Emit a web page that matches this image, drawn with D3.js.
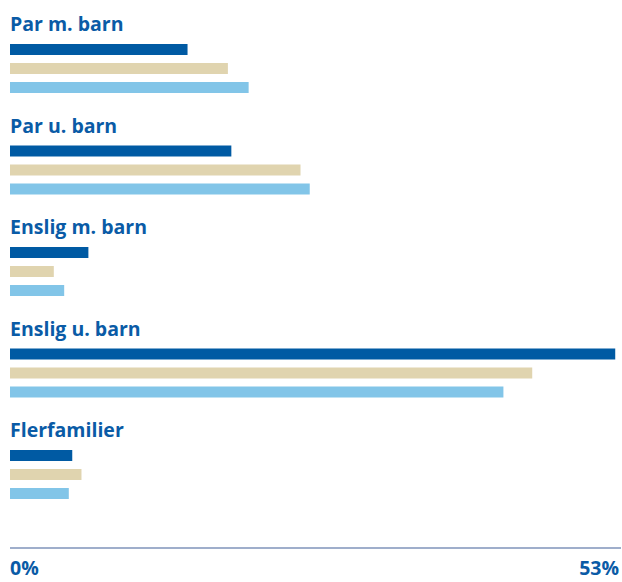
<!DOCTYPE html>
<html>
<head>
<meta charset="utf-8">
<script src="https://cdn.jsdelivr.net/npm/d3@7"></script>
<style>
  html, body { margin: 0; padding: 0; background: #fff; }
  svg { display: block; }
  text { font-family: "Open Sans", Roboto, sans-serif; font-weight: 700; fill: #0a5ba6; }
</style>
</head>
<body>
<svg id="chart" width="622" height="582"></svg>
<script>
const categories = ["Par m. barn", "Par u. barn", "Enslig m. barn", "Enslig u. barn", "Flerfamilier"];
const seriesNames = ["Serie 1", "Serie 2", "Serie 3"];
const series1 = [15.4, 19.2, 6.8, 52.5, 5.4];
const series2 = [18.9, 25.2, 3.8, 45.3, 6.2];
const series3 = [20.7, 26.0, 4.7, 42.8, 5.1];
const axisMax = 53;
const tickLabels = ["0%", "53%"];
const colors = ["#005aa3", "#e0d4af", "#82c5e8"];

const allSeries = [series1, series2, series3];
const svg = d3.select("#chart");

const x = d3.scaleLinear().domain([0, axisMax]).range([10, 621]);
const yGroup = d3.scaleBand().domain(categories).range([44, 44 + 101.5 * categories.length]).padding(0);
const ySeries = d3.scaleBand().domain(seriesNames).range([0, 49]).paddingInner(8 / 19).paddingOuter(0);
const color = d3.scaleOrdinal().domain(seriesNames).range(colors);

const groups = svg.selectAll("g.group")
  .data(categories)
  .join("g")
  .attr("class", "group")
  .attr("transform", d => `translate(0,${yGroup(d)})`);

groups.append("text")
  .attr("x", 10)
  .attr("y", -13)
  .attr("font-size", 19.5)
  .text(d => d);

groups.selectAll("rect")
  .data((d, i) => seriesNames.map((s, j) => ({ s, v: allSeries[j][i] })))
  .join("rect")
  .attr("x", x(0))
  .attr("y", d => ySeries(d.s))
  .attr("width", d => x(d.v) - x(0))
  .attr("height", ySeries.bandwidth())
  .attr("fill", d => color(d.s));

// axis
const axisG = svg.append("g").attr("transform", "translate(0,548)");
axisG.append("line")
  .attr("x1", x(0)).attr("x2", x(axisMax))
  .attr("stroke", "#7f93ba").attr("stroke-width", 1.5);

axisG.selectAll("text.tick")
  .data([0, axisMax])
  .join("text")
  .attr("class", "tick")
  .attr("x", (d, i) => i === 0 ? x(d) : x(d) - 2)
  .attr("y", 27)
  .attr("text-anchor", (d, i) => i === 0 ? "start" : "end")
  .attr("font-size", 19.5)
  .text((d, i) => tickLabels[i]);
</script>
</body>
</html>
